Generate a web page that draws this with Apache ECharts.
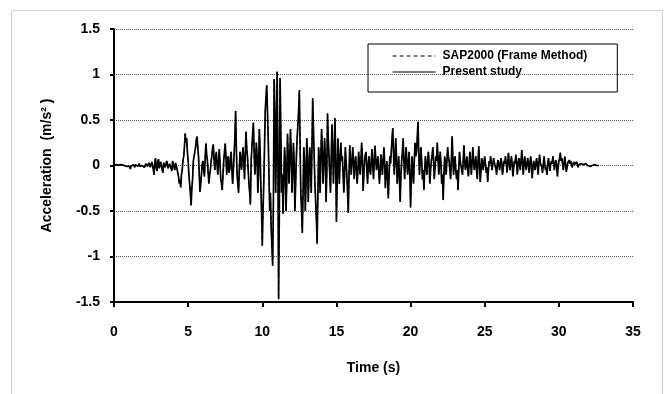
<!DOCTYPE html>
<html>
<head>
<meta charset="utf-8">
<script src="https://cdn.jsdelivr.net/npm/echarts@6/dist/echarts.min.js"></script>
<style>
	html, body {margin: 0; padding: 0; background: #fff;}
	#chart {width: 665px; height: 394px;}
</style>
</head>
<body>
<div id="chart"></div>
<script>
// sampled every 0.05 s, one row per second
const timeStep = 0.05;
const presentStudy = [
	0, 0.005, -0.005, 0.01, 0, -0.01, 0.005, 0, -0.005, 0.01, 0, -0.01, 0.005, 0, 0.01, -0.005, 0, 0.005, -0.01, 0,
	0.01, -0.01, -0.04, -0.01, 0, 0.01, 0.01, -0.01, -0.02, 0.01, 0.01, -0.01, -0.01, 0.01, 0.02, -0.01, -0.01, 0.01, 0, -0.01,
	0.02, -0.02, -0.03, 0.02, 0.03, -0.01, -0.02, 0.03, 0.04, -0.02, -0.03, 0.04, 0.05, -0.04, -0.1, 0.03, 0.08, -0.02, -0.06, 0.04,
	0.07, -0.03, -0.05, 0.04, 0.06, -0.05, -0.08, 0.03, 0.05, -0.02, -0.04, 0.05, 0.06, -0.03, -0.05, 0.02, 0.04, -0.03, -0.06, 0.05,
	0.07, -0.02, -0.05, 0.03, 0.04, -0.04, -0.08, -0.12, -0.2, -0.15, -0.24, -0.1, -0.05, 0.05, 0.1, 0.2, 0.35, 0.25, 0.3, 0.15,
	0.05, -0.1, -0.2, -0.3, -0.44, -0.25, -0.15, 0.05, 0.1, 0.15, 0.2, 0.28, 0.32, 0.2, 0.1, -0.1, -0.29, -0.2, -0.1, 0.02,
	0.05, -0.05, -0.12, 0.1, 0.24, 0.12, 0.05, -0.08, -0.2, -0.1, -0.05, 0.05, 0.1, 0.2, 0.23, 0.05, -0.05, 0.08, 0.15, 0.02,
	-0.1, 0.05, 0.18, 0.02, -0.15, -0.2, -0.27, -0.1, 0.05, 0.15, 0.24, 0.1, -0.1, 0.02, 0.1, -0.08, -0.05, 0.08, 0.15, -0.05,
	-0.2, -0.05, 0.12, 0.3, 0.6, 0.2, -0.1, -0.2, -0.3, -0.05, 0.15, 0.05, -0.05, 0.1, 0.2, 0.05, -0.15, 0.1, 0.37, 0.2,
	0.1, -0.05, -0.2, -0.3, -0.43, 0.05, 0.2, 0.35, 0.47, 0.15, -0.1, 0.05, 0.25, 0.1, -0.3, -0.1, 0.4, 0.2, -0.2, -0.5,
	-0.88, -0.5, -0.2, 0.2, 0.6, 0.75, 0.88, 0.6, 0.3, -0.1, -0.5, -0.3, -0.7, -0.9, -1.1, -0.4, 0.95, 0.6, -0.3, 0.2,
	1.03, 0.2, -1.47, -0.5, 0.96, 0.4, -0.3, -0.1, -0.53, -0.2, 0.2, 0.05, -0.5, -0.2, 0.35, 0.1, -0.2, 0.05, 0.4, 0.15,
	-0.3, -0.1, 0.25, 0.05, -0.5, -0.2, 0.1, 0.3, 0.45, 0.6, 0.83, 0.2, -0.3, -0.5, -0.74, -0.3, 0.2, 0.05, -0.5, -0.2,
	0.3, 0.1, -0.4, -0.1, 0.2, 0.05, -0.3, 0.2, 0.74, 0.4, 0.1, -0.2, -0.4, -0.6, -0.86, -0.3, 0.2, 0.05, -0.3, 0.1,
	0.4, 0.15, -0.2, 0.05, 0.3, 0.1, -0.4, -0.1, 0.57, 0.3, 0.1, -0.1, -0.3, 0.1, 0.45, 0.2, -0.2, 0.1, 0.52, 0.1,
	-0.62, -0.2, 0.3, 0.05, -0.2, 0.1, 0.25, 0.05, 0.1, -0.1, -0.3, -0.1, 0.2, 0.05, -0.1, -0.3, -0.52, -0.1, 0.22, 0.05,
	-0.1, 0.05, 0.2, 0.05, -0.15, 0.02, 0.1, -0.05, -0.2, -0.05, 0.15, 0.02, -0.1, 0.05, 0.25, 0.1, -0.28, -0.1, 0.05, 0.12,
	0.15, -0.05, -0.2, 0.02, 0.1, -0.05, -0.1, 0.05, 0.18, 0.02, -0.15, 0.05, 0.22, 0.08, -0.05, 0.03, 0.1, -0.05, -0.2, -0.05,
	0.12, 0.02, -0.1, 0.05, 0.2, 0.05, -0.25, -0.05, 0.05, -0.15, -0.36, -0.1, 0.1, 0.02, 0.15, 0.3, 0.41, 0.15, -0.1, 0.05,
	0.3, 0.1, -0.2, -0.05, 0.1, -0.15, -0.4, -0.1, 0.05, 0.15, 0.3, 0.05, -0.15, 0.05, 0.2, 0.05, -0.1, 0.02, 0.15, -0.1,
	-0.46, -0.15, 0.1, -0.05, -0.2, 0.05, 0.25, 0.1, 0.15, 0.3, 0.48, 0.15, -0.1, 0.05, 0.2, 0.05, -0.15, -0.05, -0.27, -0.05,
	0.1, -0.02, -0.1, 0.05, 0.15, 0.02, -0.2, -0.05, 0.05, 0.1, 0.2, 0.05, -0.15, -0.02, 0.1, 0.05, 0.25, 0.1, -0.1, 0.02,
	0.15, 0.02, -0.2, -0.1, -0.38, -0.1, 0.1, 0.02, -0.1, 0.05, 0.2, 0.1, 0.05, -0.05, -0.15, 0.05, 0.32, 0.1, -0.1, 0.02,
	0.1, -0.05, -0.15, -0.05, -0.27, -0.05, 0.15, 0.05, 0.05, -0.05, -0.1, 0.05, 0.22, 0.05, -0.05, 0.02, 0.1, -0.02, -0.12, 0.02,
	0.15, 0.02, -0.1, 0.05, 0.2, 0.05, -0.05, 0.02, 0.1, -0.05, -0.15, 0.05, 0.21, 0.02, -0.18, -0.05, 0.08, 0.02, -0.05, 0.03,
	0.1, 0.02, -0.08, -0.02, -0.18, -0.05, 0.05, 0.02, 0.1, 0.02, -0.05, 0.02, 0.08, 0.03, 0.02, -0.03, -0.1, 0.02, 0.06, 0.01,
	-0.05, 0.02, 0.08, 0.02, -0.1, -0.02, 0.05, 0.02, 0.1, 0.03, -0.08, 0.02, 0.14, 0.03, -0.05, 0.02, 0.1, 0.02, -0.12, -0.02,
	0.05, 0.02, 0.12, 0.03, -0.1, 0.02, 0.08, 0.02, -0.05, 0.05, 0.17, 0.05, -0.1, 0.02, 0.1, 0.02, -0.05, 0.02, 0.08, 0.01,
	-0.08, 0.02, 0.1, 0.01, -0.14, -0.03, 0.05, 0.01, -0.05, 0.02, 0.08, 0.01, -0.1, 0.02, 0.12, 0.03, 0.03, -0.02, -0.08, 0.01,
	0.1, 0.02, -0.05, -0.02, -0.1, 0.02, 0.08, 0.01, -0.06, 0.02, 0.05, 0.02, 0.1, 0.02, -0.05, 0.02, 0.06, 0.01, -0.12, -0.03,
	0.05, 0.08, 0.14, 0.05, 0.08, 0.02, -0.05, 0.02, 0.1, 0.02, -0.07, -0.02, 0.03, 0.01, 0.06, 0.02, 0.05, 0.01, -0.02, 0.01,
	0.04, 0.01, 0.01, 0.02, 0.04, 0.01, -0.02, 0.01, 0.03, 0.01, 0.02, 0.01, 0.02, 0.01, -0.01, 0.01, 0.02, 0.01, 0.01, 0,
	0.01, 0, -0.01, 0, 0.01, 0, 0, 0, 0.01, 0, 0, 0, 0, 0, 0
];
// the SAP2000 curve lies on top of the present-study curve
const sapFrame = presentStudy;

const seriesNames = ['SAP2000 (Frame Method)', 'Present study'];

const font = '"Liberation Sans", Arial, sans-serif';
const toPairs = arr => arr.map((v, i) => [+(i * timeStep).toFixed(2), v]);

const chart = echarts.init(document.getElementById('chart'), null, {renderer: 'canvas'});
chart.setOption({
	animation: false,
	backgroundColor: '#fff',
	textStyle: {fontFamily: font},
	graphic: [{
		type: 'rect',
		shape: {x: 11.5, y: 10.5, width: 651, height: 400},
		style: {fill: 'none', stroke: '#d0d0d0', lineWidth: 1},
		silent: true
	}],
	grid: {left: 114, right: 32, top: 29, bottom: 92},
	legend: {
		left: 368,
		top: 44,
		orient: 'vertical',
		data: seriesNames,
		itemWidth: 43,
		itemHeight: 10,
		itemGap: 4,
		padding: [6, 30, 14, 24],
		borderColor: '#000',
		borderWidth: 1,
		itemStyle: {opacity: 0},
		lineStyle: {width: 1.2},
		textStyle: {fontFamily: font, fontWeight: 'bold', fontSize: 12, color: '#000', padding: [0, 0, 0, 2]}
	},
	xAxis: {
		type: 'value',
		min: 0,
		max: 35,
		interval: 5,
		name: 'Time (s)',
		nameLocation: 'middle',
		nameGap: 59,
		nameTextStyle: {fontWeight: 'bold', fontSize: 14, color: '#000', fontFamily: font},
		axisLine: {show: true, onZero: false, lineStyle: {color: '#000', width: 2}},
		axisTick: {show: true, length: 5, lineStyle: {color: '#000', width: 2}},
		axisLabel: {color: '#000', fontWeight: 'bold', fontSize: 14, margin: 23},
		splitLine: {show: false}
	},
	yAxis: {
		type: 'value',
		min: -1.5,
		max: 1.5,
		interval: 0.5,
		name: 'Acceleration  (m/s² )',
		nameLocation: 'middle',
		nameGap: 60,
		nameTextStyle: {fontWeight: 'bold', fontSize: 14, color: '#000', fontFamily: font},
		axisLine: {show: true, onZero: false, lineStyle: {color: '#000', width: 2}},
		axisTick: {show: true, length: 4, lineStyle: {color: '#000', width: 2}},
		axisLabel: {color: '#000', fontWeight: 'bold', fontSize: 14, margin: 14,
			formatter: v => String(v)},
		splitLine: {show: true, lineStyle: {color: '#555', width: 1, type: [1, 1]}}
	},
	series: [
		{
			name: seriesNames[0],
			data: toPairs(sapFrame),
			lineStyle: {type: [4, 3], width: 1}
		},
		{
			name: seriesNames[1],
			data: toPairs(presentStudy),
			lineStyle: {type: 'solid', width: 1.7}
		}
	].map(obj => ({
		...obj,
		type: 'line',
		symbol: 'none',
		color: '#000',
		z: obj.name === seriesNames[1] ? 3 : 2
	}))
});
</script>
</body>
</html>
